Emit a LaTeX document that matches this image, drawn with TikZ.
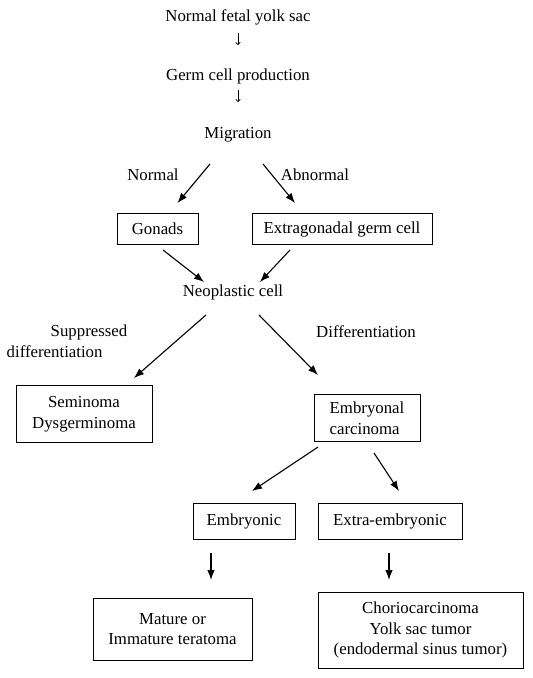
\documentclass[tikz,border=0pt]{standalone}
\usepackage{fontspec}
\setmainfont{Liberation Serif}
\usetikzlibrary{arrows.meta}

\begin{document}
\begin{tikzpicture}[x=1pt,y=-1pt,
    every node/.style={font=\fontsize{16.8}{20.5}\selectfont,inner sep=0pt},
    box/.style={draw,line width=0.9pt,align=center},
    arr/.style={-{Latex[length=10pt,width=7.5pt]},line width=1.1pt},
    smallarr/.style={-{To[length=3pt,width=5pt]},line width=0.7pt}]
    \useasboundingbox (0,0) rectangle (533,678);

    \node (yolk) at (238,17) {Normal fetal yolk sac};
    \node (germ) at (238,76) {Germ cell production};
    \node (mig)  at (238,135) {Migration};

    \node[box,minimum width=81,minimum height=31] (gon) at (157.5,229) {Gonads};
    \node[box,minimum width=180,minimum height=31] (extra) at (342,229) {Extragonadal germ cell};
    \node (neo) at (233,292) {Neoplastic cell};

    \node[box,minimum width=136,minimum height=57] (sem) at (84,414) {Seminoma\\Dysgerminoma};
    \node[box,align=left,minimum width=106,minimum height=47] (emb) at (367,418) {Embryonal\\carcinoma};

    \node[box,minimum width=102,minimum height=36] (embr) at (244,521) {Embryonic};
    \node[box,minimum width=144,minimum height=36] (extr) at (390,521) {Extra-embryonic};

    \node[box,minimum width=159,minimum height=62] (mat) at (172.5,629) {Mature or\\Immature teratoma};
    \node[box,minimum width=205,minimum height=76] (cho) at (420.5,630) {Choriocarcinoma\\Yolk sac tumor\\(endodermal sinus tumor)};

    % labels
    \node (lnorm) at (153,175) {Normal};
    \node (labn) at (315,175) {Abnormal};
    \node[align=left] (lsup) at (67,341) {\hspace*{44pt}Suppressed\\differentiation};
    \node (ldiff) at (366,332) {Differentiation};

    \draw[smallarr] ([shift={(0,16)}]yolk.center) -- ([shift={(0,-31)}]germ.center);
    \draw[smallarr] ([shift={(0,14)}]germ.center) -- ([shift={(0,-33)}]mig.center);

    \draw[arr] ([shift={(-28,29)}]mig.center) -- ([shift={(20,-26)}]gon.center);
    \draw[arr] ([shift={(25,29)}]mig.center) -- ([shift={(-47,-26)}]extra.center);
    \draw[arr] ([shift={(5.5,21)}]gon.center) -- ([shift={(-29,-10)}]neo.center);
    \draw[arr] ([shift={(-52,21)}]extra.center) -- ([shift={(27,-10)}]neo.center);

    \draw[arr] ([shift={(-27,23)}]neo.center) -- ([shift={(50,-36)}]sem.center);
    \draw[arr] ([shift={(26,23)}]neo.center) -- ([shift={(-49,-43)}]emb.center);

    \draw[arr] ([shift={(-49,29)}]emb.center) -- ([shift={(8,-30)}]embr.center);
    \draw[arr] ([shift={(7,35)}]emb.center) -- ([shift={(9,-30)}]extr.center);

    \draw[arr] ([shift={(-33,32)}]embr.center) -- ([shift={(38.5,-49)}]mat.center);
    \draw[arr] ([shift={(-1,32)}]extr.center) -- ([shift={(-31.5,-50)}]cho.center);
\end{tikzpicture}
\end{document}
